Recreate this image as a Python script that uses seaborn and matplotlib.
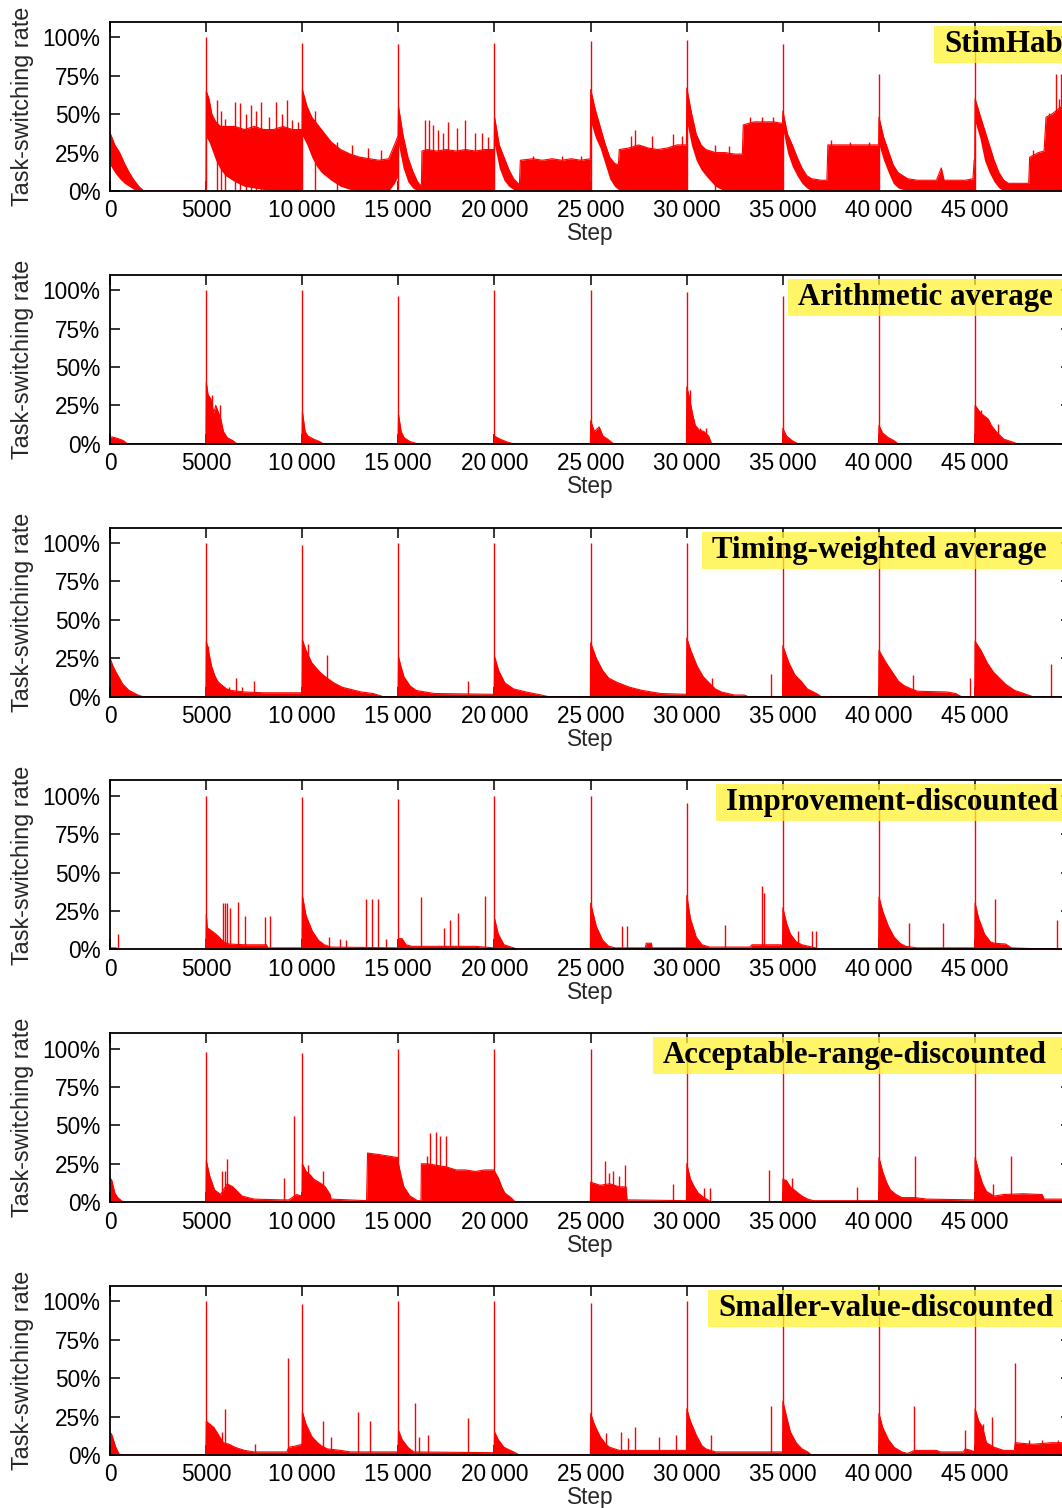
import matplotlib
matplotlib.use("Agg")
import matplotlib.pyplot as plt
import seaborn as sns
import pandas as pd
from matplotlib.patches import Rectangle
from matplotlib.ticker import FuncFormatter

# ---------------- data ----------------
panel_titles = ["StimHab", "Arithmetic average", "Timing-weighted average",
                "Improvement-discounted", "Acceptable-range-discounted",
                "Smaller-value-discounted"]

x_tick_values = [0, 5000, 10000, 15000, 20000, 25000, 30000, 35000, 40000, 45000]
y_tick_values = [0, 0.25, 0.5, 0.75, 1.0]

reset_steps = [5000, 10000, 15000, 20000, 25000, 30000, 35000, 40000, 45000]

# envelope: (step, upper rate, lower rate)
stimhab_envelope = [
    (0, .38, .17), (250, .30, .12), (500, .25, .08), (750, .18, .05), (1000, .12, .03),
    (1250, .07, .01), (1500, .03, 0), (1750, 0, 0), (4990, 0, 0),
    (5010, .65, .35), (5150, .60, .32), (5300, .50, .27), (5500, .45, .20), (5750, .42, .14),
    (6000, .42, .10), (6500, .42, .06), (7000, .40, .03), (7500, .42, .02), (8000, .40, .01),
    (8500, .40, 0), (9000, .42, 0), (9500, .40, 0), (9990, .40, 0),
    (10010, .66, .36), (10250, .55, .30), (10500, .48, .22), (10750, .44, .16), (11000, .40, .12),
    (11500, .32, .07), (12000, .27, .03), (12500, .24, .01), (13000, .22, 0), (13500, .21, 0),
    (14000, .20, 0), (14500, .21, 0), (14800, .30, .05), (14990, .36, .10),
    (15010, .55, .30), (15250, .36, .15), (15500, .22, .06), (15750, .13, .02), (16000, .06, 0),
    (16200, .03, 0), (16230, .26, 0), (16500, .27, 0), (17000, .26, 0), (17500, .27, 0),
    (18000, .26, 0), (18500, .27, 0), (19000, .26, 0), (19500, .27, 0), (19990, .27, 0),
    (20010, .48, .30), (20250, .30, .15), (20500, .22, .07), (20750, .14, .03), (21000, .08, .01),
    (21300, .04, 0), (21350, .20, 0), (22000, .21, 0), (22500, .20, 0), (23000, .21, 0),
    (23500, .20, 0), (24000, .21, 0), (24500, .20, 0), (24990, .21, 0),
    (25010, .66, .45), (25250, .53, .35), (25500, .42, .28), (25750, .31, .18), (26000, .22, .08),
    (26250, .18, .03), (26450, .17, .01), (26500, .27, 0), (27000, .28, 0), (27500, .30, 0),
    (28000, .28, 0), (28500, .27, 0), (29000, .28, 0), (29500, .30, 0), (29990, .30, 0),
    (30010, .67, .45), (30250, .51, .30), (30500, .37, .20), (30750, .30, .14), (31000, .27, .10),
    (31500, .25, .03), (32000, .25, 0), (32500, .24, 0), (32900, .24, 0), (32950, .43, 0),
    (33500, .45, 0), (34000, .45, 0), (34500, .45, 0), (34990, .44, 0),
    (35010, .52, .40), (35250, .37, .25), (35500, .30, .16), (35750, .22, .10), (36000, .15, .05),
    (36250, .10, .02), (36500, .08, 0), (37000, .07, 0), (37300, .07, 0), (37350, .30, 0),
    (38000, .30, 0), (38500, .30, 0), (39000, .30, 0), (39500, .30, 0), (39990, .30, 0),
    (40010, .48, .30), (40250, .35, .20), (40500, .26, .12), (40750, .17, .05), (41000, .12, .02),
    (41500, .08, 0), (42000, .07, 0), (42500, .07, 0), (43000, .07, 0), (43250, .15, 0),
    (43400, .07, 0), (44000, .07, 0), (44500, .07, 0), (44900, .08, 0), (44960, .20, 0),
    (44990, .20, 0),
    (45010, .60, .45), (45250, .50, .35), (45500, .40, .20), (45750, .30, .12), (46000, .20, .06),
    (46250, .12, .02), (46500, .07, 0), (46750, .05, 0), (47500, .05, 0), (47800, .05, 0),
    (47850, .22, 0), (48000, .23, 0), (48300, .25, 0), (48600, .26, 0), (48700, .48, 0),
    (49000, .50, 0), (49500, .55, 0), (50000, .55, 0),
]
stimhab_reset_peaks = [1.0, .965, .955, .965, .975, .98, .96, .76, .96]
stimhab_spikes = [
    (5570, .59), (5750, .52), (6000, .47), (6490, .58), (6750, .57), (7100, .50), (7330, .56),
    (7600, .52), (7880, .58), (8250, .48), (8660, .58), (8950, .50), (9220, .59), (9450, .46),
    (9800, .45), (10660, .52), (11800, .32), (12600, .30), (13400, .28), (14100, .27),
    (16390, .46), (16610, .46), (16830, .43), (17090, .40), (17350, .38), (17570, .45),
    (18040, .41), (18470, .46), (18990, .38), (19340, .38), (19690, .35),
    (22000, .23), (23500, .23), (24500, .23), (27100, .36), (27300, .40), (28200, .36),
    (29300, .37), (29760, .36), (31500, .30), (32200, .29), (33300, .48), (33900, .48),
    (34500, .48), (37500, .33), (38500, .32), (39500, .32), (48000, .27), (48870, .51),
    (49220, .76), (49350, .60), (49480, .76),
]

arith_envelope = [
    (0, .04), (100, .045), (400, .035), (700, .02), (900, 0), (4990, 0),
    (5010, .40), (5100, .32), (5250, .29), (5400, .20), (5500, .25), (5650, .20), (5750, .17),
    (5900, .08), (6100, .04), (6400, .02), (6600, 0), (9990, 0),
    (10010, .21), (10150, .08), (10300, .05), (10600, .03), (10900, .015), (11100, 0), (14990, 0),
    (15010, .19), (15150, .08), (15300, .04), (15600, .015), (16000, 0), (19990, 0),
    (20010, .05), (20300, .03), (20700, .01), (21000, 0), (24990, 0),
    (25010, .15), (25200, .08), (25450, .11), (25650, .05), (25900, .03), (26200, 0), (29990, 0),
    (30010, .37), (30150, .30), (30300, .20), (30450, .12), (30650, .09), (30900, .08),
    (31150, .05), (31300, 0), (34990, 0),
    (35010, .10), (35200, .05), (35500, .02), (35800, 0), (39990, 0),
    (40010, .12), (40200, .07), (40500, .04), (40800, .02), (41000, 0), (44990, 0),
    (45010, .25), (45300, .20), (45500, .18), (45700, .16), (45850, .12), (46100, .08),
    (46500, .03), (47000, .01), (47200, 0), (50000, 0),
]
arith_reset_peaks = [1.0, 1.0, .965, 1.0, 1.0, .985, .965, 1.0, 1.0]
arith_spikes = [(5300, .32), (5700, .25), (30200, .35), (30700, .10), (31000, .10),
                (45300, .22), (46200, .13)]

timing_envelope = [
    (0, .25), (150, .20), (350, .15), (670, .08), (990, .04), (1460, .01), (1700, 0), (4990, 0),
    (5010, .36), (5120, .30), (5280, .20), (5440, .14), (5600, .10), (5760, .08), (6070, .05),
    (6300, .04), (7000, .03), (8000, .025), (9000, .025), (9990, .025),
    (10010, .37), (10200, .30), (10500, .22), (10840, .17), (11000, .15), (11300, .12),
    (11640, .09), (12100, .06), (12430, .05), (13070, .03), (13700, .02), (14200, 0), (14990, 0),
    (15010, .26), (15130, .20), (15290, .13), (15610, .07), (15930, .04), (16880, .02),
    (19990, .015),
    (20010, .26), (20220, .17), (20540, .09), (21000, .05), (21650, .03), (22450, .01),
    (22800, 0), (24990, 0),
    (25010, .35), (25300, .25), (25630, .17), (25950, .12), (26430, .09), (27060, .06),
    (27700, .04), (28650, .02), (29990, .015),
    (30010, .38), (30220, .30), (30540, .20), (30860, .13), (31170, .09), (31490, .05),
    (31810, .03), (32500, .01), (33000, .01), (33200, 0), (34990, 0),
    (35010, .33), (35320, .22), (35640, .14), (35960, .10), (36280, .05), (36760, .02),
    (37000, 0), (39990, 0),
    (40010, .30), (40380, .22), (40700, .16), (41020, .10), (41340, .07), (41700, .05),
    (42000, .035), (43550, .03), (44000, .02), (44300, 0), (44990, 0),
    (45010, .36), (45320, .30), (45640, .22), (45960, .16), (46280, .12), (46600, .08),
    (47070, .04), (47550, .02), (48000, 0), (50000, 0),
]
timing_reset_peaks = [1.0, .985, 1.0, 1.0, 1.0, 1.0, 1.0, 1.0, 1.0]
timing_spikes = [(5100, .33), (6170, .06), (6550, .12), (6870, .06), (7500, .10), (10300, .34),
                 (11300, .27), (18640, .10), (31330, .12), (34400, .15), (41800, .14),
                 (44750, .12), (48940, .21)]

improvement_envelope = [
    (0, .01), (300, .01), (500, 0), (4990, 0),
    (5010, .23), (5060, .14), (5300, .12), (5600, .09), (5900, .05), (6200, .035), (7000, .03),
    (8140, .03), (8200, .01), (9990, .01),
    (10010, .35), (10200, .22), (10520, .12), (10840, .06), (11150, .03), (11500, .015),
    (14990, .01),
    (15010, .07), (15200, .07), (15400, .03), (15700, .02), (19000, .02), (19990, .01),
    (20010, .20), (20200, .10), (20500, .03), (21000, .01), (21200, 0), (24990, 0),
    (25010, .30), (25300, .15), (25630, .06), (25950, .02), (26300, .01), (27850, .01),
    (27900, .04), (28170, .04), (28200, .01), (29990, .01),
    (30010, .35), (30200, .20), (30500, .08), (30800, .03), (31200, .015), (33300, .015),
    (33400, .03), (34900, .03), (34990, .02),
    (35010, .27), (35200, .17), (35400, .10), (35700, .05), (36000, .03), (36700, .01),
    (37000, 0), (39990, 0),
    (40010, .34), (40200, .25), (40500, .15), (40800, .08), (41100, .04), (41400, .02),
    (42000, .01), (44990, .01),
    (45010, .30), (45200, .20), (45500, .10), (45800, .05), (46000, .04), (46600, .035),
    (46900, .01), (48000, .005), (50000, .005),
]
improvement_reset_peaks = [1.0, .99, .98, 1.0, 1.0, .955, 1.0, 1.0, 1.0]
improvement_spikes = [
    (410, .10), (5870, .30), (6000, .30), (6100, .30), (6250, .27), (6650, .31), (7030, .22),
    (8080, .21), (8300, .22), (11420, .08), (11960, .07), (12280, .06), (13300, .33),
    (13610, .33), (13930, .33), (14340, .07), (16190, .34), (17360, .14), (17680, .19),
    (18090, .24), (19500, .35), (26650, .15), (26900, .15), (31990, .16), (33900, .41),
    (34050, .37), (35800, .12), (36500, .12), (36730, .12), (41550, .17), (43360, .17),
    (45320, .15), (46040, .33), (49270, .19),
]

acceptable_envelope = [
    (0, .16), (100, .14), (250, .06), (400, .03), (700, 0), (4990, 0),
    (5010, .27), (5190, .17), (5440, .08), (5760, .05), (5900, .08), (6100, .12), (6390, .10),
    (6870, .04), (7500, .02), (9000, .015), (9300, .015), (9700, .05), (9990, .04),
    (10010, .25), (10200, .20), (10400, .18), (10600, .15), (11000, .12), (11200, .10),
    (11450, .05), (11500, .02), (13350, .01), (13400, .32), (14000, .31), (14500, .30),
    (14990, .29),
    (15010, .25), (15130, .18), (15290, .10), (15610, .04), (16000, .01), (16180, .01),
    (16200, .25), (16500, .25), (17000, .24), (17500, .23), (18000, .21), (18500, .21),
    (19000, .20), (19500, .21), (19990, .21),
    (20010, .20), (20200, .16), (20380, .10), (20540, .06), (20860, .03), (21100, 0), (24990, 0),
    (25010, .13), (25500, .11), (26000, .12), (26500, .10), (26850, .10), (26900, .015),
    (29990, .01),
    (30010, .25), (30200, .15), (30400, .10), (30600, .06), (30900, .03), (31300, 0), (34990, 0),
    (35010, .15), (35200, .14), (35400, .10), (35700, .07), (36000, .04), (36300, .02),
    (36600, .01), (39990, .01),
    (40010, .29), (40200, .20), (40400, .13), (40600, .08), (40900, .05), (41200, .03),
    (41900, .03), (42500, .02), (44990, .015),
    (45010, .29), (45200, .20), (45400, .12), (45600, .07), (46000, .04), (46500, .05),
    (47500, .055), (48500, .05), (48600, .02), (50000, .02),
]
acceptable_reset_peaks = [.98, .97, 1.0, 1.0, 1.0, 1.0, 1.0, 1.0, 1.0]
acceptable_spikes = [
    (5850, .20), (6000, .20), (6070, .28), (9030, .16), (9570, .56), (10300, .24), (11070, .20),
    (16500, .30), (16660, .45), (16980, .46), (17170, .43), (17460, .43), (25730, .27),
    (25980, .19), (26170, .20), (26490, .17), (26810, .24), (29280, .12), (30880, .09),
    (31200, .09), (34310, .21), (35490, .16), (38870, .10), (41860, .30), (45960, .12),
    (46880, .30),
]

smaller_envelope = [
    (0, .15), (100, .13), (300, .05), (500, 0), (4990, 0),
    (5010, .22), (5200, .20), (5400, .18), (5700, .12), (5900, .08), (6200, .07), (6500, .05),
    (7000, .03), (7500, .02), (9200, .02), (9300, .05), (9700, .06), (9990, .07),
    (10010, .28), (10200, .20), (10500, .12), (10800, .08), (11000, .06), (11300, .04),
    (12000, .03), (12500, .02), (14990, .02),
    (15010, .16), (15200, .10), (15500, .05), (15800, .02), (19990, .015),
    (20010, .15), (20200, .10), (20500, .05), (21000, .02), (21300, 0), (24990, 0),
    (25010, .27), (25200, .20), (25500, .12), (25800, .07), (26000, .05), (26500, .03),
    (29990, .03),
    (30010, .30), (30200, .22), (30500, .13), (30800, .06), (31000, .04), (31500, .02),
    (34990, .02),
    (35010, .35), (35200, .25), (35400, .15), (35700, .08), (36000, .04), (36300, .02),
    (36500, 0), (39990, 0),
    (40010, .27), (40200, .18), (40500, .10), (40800, .05), (41200, .02), (41500, .01),
    (41850, .03), (43000, .03), (43200, .02), (44400, .02), (44500, .04), (44800, .03),
    (44990, .02),
    (45010, .30), (45200, .22), (45400, .18), (45600, .08), (46000, .05), (46500, .03),
    (47050, .03), (47100, .08), (48000, .07), (49000, .08), (50000, .08),
]
smaller_reset_peaks = [1.0, .98, 1.0, 1.0, .99, 1.0, 1.0, 1.0, 1.0]
smaller_spikes = [
    (5850, .15), (6000, .30), (7570, .07), (9250, .63), (11090, .22), (11480, .12),
    (12910, .28), (13550, .22), (15880, .34), (16100, .12), (16520, .13), (18650, .24),
    (25790, .14), (26590, .15), (26970, .11), (27320, .18), (28580, .12), (29440, .13),
    (31280, .13), (34380, .32), (41850, .32), (44500, .16), (45420, .20), (45900, .25),
    (47100, .60), (47800, .10), (48500, .10), (49300, .10),
]

panels = [
    (stimhab_envelope, stimhab_reset_peaks, stimhab_spikes),
    (arith_envelope, arith_reset_peaks, arith_spikes),
    (timing_envelope, timing_reset_peaks, timing_spikes),
    (improvement_envelope, improvement_reset_peaks, improvement_spikes),
    (acceptable_envelope, acceptable_reset_peaks, acceptable_spikes),
    (smaller_envelope, smaller_reset_peaks, smaller_spikes),
]
key_left_px = [944, 798, 712, 726, 663, 718]

# ---------------- style ----------------
sns.set_style("ticks")
plt.rcParams["font.family"] = ["Liberation Sans", "DejaVu Sans"]

W, H = 1062, 1508
fig = plt.figure(figsize=(W / 100, H / 100), dpi=100)

AX_LEFT, AX_RIGHT = 110, 1071
AX_H = 169
RED = "#ff0000"


def xfmt(v, _):
    v = int(round(v))
    if v >= 10000:
        return f"{v // 1000}\u2009{v % 1000:03d}"
    return f"{v}"


def yfmt(v, _):
    return f"{int(round(v * 100))}%"


# fit key font to reference width
probe = fig.text(0, 0, "Arithmetic average", fontsize=20, fontweight="bold",
                 family="Liberation Serif")
fig.canvas.draw()
key_size = 20 * 255 / probe.get_window_extent().width
probe.remove()

for i, (env, peaks, spikes) in enumerate(panels):
    bottom_px = 191 + 252.8 * i
    ax = fig.add_axes([AX_LEFT / W, 1 - bottom_px / H, (AX_RIGHT - AX_LEFT) / W, AX_H / H])
    cols = ["step", "upper", "lower"] if len(env[0]) == 3 else ["step", "upper"]
    df = pd.DataFrame(env, columns=cols)
    if "lower" not in df:
        df["lower"] = 0.0
    ax.fill_between(df["step"], df["lower"], df["upper"], color=RED, lw=0, zorder=2)
    sns.lineplot(data=df, x="step", y="upper", ax=ax, color=RED, lw=0.8, zorder=3,
                 estimator=None, sort=False)
    sp = pd.DataFrame(spikes, columns=["step", "rate"])
    ax.vlines(sp["step"], 0, sp["rate"], color=RED, lw=1.0, zorder=3)
    ax.vlines(reset_steps, 0, peaks, color=RED, lw=1.0, zorder=3)

    ax.set_xlim(0, 50000)
    ax.set_ylim(0, 1.1)
    ax.set_xticks(x_tick_values)
    ax.set_yticks(y_tick_values)
    ax.xaxis.set_major_formatter(FuncFormatter(xfmt))
    ax.yaxis.set_major_formatter(FuncFormatter(yfmt))
    ax.tick_params(direction="in", top=True, right=True, length=7, width=1.1,
                   labelsize=16.3, colors="black")
    ax.tick_params(axis="x", pad=6)
    ax.tick_params(axis="y", pad=7)
    for s in ax.spines.values():
        s.set_linewidth(1.3)
        s.set_color("black")
        s.set_zorder(5)
    ax.set_xlabel("Step", fontsize=16.3, labelpad=0)
    ax.set_ylabel("Task-switching rate", fontsize=16.8, labelpad=6)

    # key box
    box_left = (key_left_px[i] - 10 - AX_LEFT) / (AX_RIGHT - AX_LEFT)
    box_top = 1 - 4 / AX_H
    box_h = 37 / AX_H
    ax.add_patch(Rectangle((box_left, box_top - box_h), 1.2 - box_left, box_h,
                           transform=ax.transAxes, facecolor=(1.0, 0.95, 0.2),
                           alpha=0.75, lw=0, zorder=6, clip_on=False))
    ax.text((key_left_px[i] - AX_LEFT) / (AX_RIGHT - AX_LEFT), 1 - 30 / AX_H, panel_titles[i],
            transform=ax.transAxes, ha="left", va="baseline", fontsize=key_size,
            fontweight="bold", family="Liberation Serif", color="black", zorder=7,
            clip_on=False)

fig.savefig("out.png", dpi=100)
